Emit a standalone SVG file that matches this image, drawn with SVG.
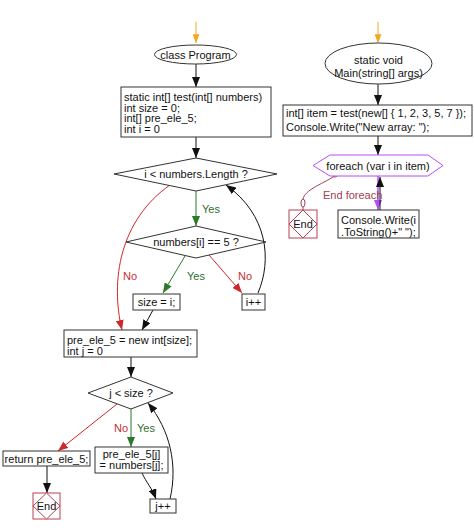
<svg xmlns="http://www.w3.org/2000/svg" width="474" height="532" viewBox="0 0 474 532">
<style>
text{font-family:"Liberation Sans",Arial,sans-serif;font-size:11px;fill:#111}
.c{text-anchor:middle}
.box{fill:#fff;stroke:#333;stroke-width:1}
.end{fill:#fff;stroke:#b84050;stroke-width:1}
.k{stroke:#111;fill:none;stroke-width:1;marker-end:url(#ak)}
.g{stroke:#2a7a2a;fill:none;stroke-width:1;marker-end:url(#ag)}
.r{stroke:#d02828;fill:none;stroke-width:1;marker-end:url(#ar)}
.o{stroke:#f5a623;fill:none;stroke-width:1;marker-end:url(#ao)}
.p{stroke:#b44cff;fill:none;stroke-width:1.5;marker-end:url(#ap)}
.yes{fill:#2e6e2e}
.no{fill:#c43030}
</style>
<defs>
<marker id="ak" viewBox="0 0 10 8" refX="10" refY="4" markerWidth="10" markerHeight="8" markerUnits="userSpaceOnUse" orient="auto"><path d="M0,0L10,4L0,8z" fill="#111"/></marker>
<marker id="ag" viewBox="0 0 10 8" refX="10" refY="4" markerWidth="10" markerHeight="8" markerUnits="userSpaceOnUse" orient="auto"><path d="M0,0L10,4L0,8z" fill="#2a7a2a"/></marker>
<marker id="ar" viewBox="0 0 10 8" refX="10" refY="4" markerWidth="10" markerHeight="8" markerUnits="userSpaceOnUse" orient="auto"><path d="M0,0L10,4L0,8z" fill="#d02828"/></marker>
<marker id="ao" viewBox="0 0 10 8" refX="10" refY="4" markerWidth="10" markerHeight="7" markerUnits="userSpaceOnUse" orient="auto"><path d="M0,0L10,4L0,8z" fill="#f5a623"/></marker>
<marker id="ap" viewBox="0 0 10 8" refX="10" refY="4" markerWidth="10" markerHeight="8" markerUnits="userSpaceOnUse" orient="auto"><path d="M0,0L10,4L0,8z" fill="#b44cff"/></marker>
</defs>
<rect width="474" height="532" fill="#fff"/>

<g id="connectors">
<path class="o" d="M196,22L196,43"/>
<path class="k" d="M196,64L196,87"/>
<path class="k" d="M196,137L196,158"/>
<path class="g" d="M196,191L196,226"/>
<path class="g" d="M185,256L163,293"/>
<path class="r" d="M209,255L242,293"/>
<path class="k" d="M258,293C272,260 268,215 226,185"/>
<path class="r" d="M170,185C120,220 110,280 122,330"/>
<path class="k" d="M153,310L142,330"/>
<path class="k" d="M131,357L131,377"/>
<path class="r" d="M117,404L58,451"/>
<path class="g" d="M131,409L131,447"/>
<path class="k" d="M47,466L47,493"/>
<path class="k" d="M142,473C146,482 152,488 156,499"/>
<path class="k" d="M170,499C178,465 170,430 148,403"/>
<path class="o" d="M378,22L378,43"/>
<path class="k" d="M378,84L378,105"/>
<path class="k" d="M378,136L378,155"/>
<path class="p" d="M378,176L378,210"/>
<path class="k" d="M380,210L380,177"/>
<path d="M335,176C320,185 305,190 303,199" fill="none" stroke="#a04050" stroke-width="1"/>
<circle cx="335" cy="174.5" r="2.5" fill="#fff" stroke="#a04050"/>
<ellipse cx="303" cy="203" rx="2" ry="4" fill="#fff" stroke="#a04050"/>
<path d="M303,207L303,210" stroke="#a04050" stroke-width="1"/>
<text class="yes" x="202" y="213">Yes</text>
<text class="yes" x="187" y="280">Yes</text>
<text class="no" x="238" y="280">No</text>
<text class="no" x="123" y="280">No</text>
<text class="no" x="114" y="432">No</text>
<text class="yes" x="137" y="432">Yes</text>
<text x="323" y="199" style="fill:#a04050">End foreach</text>
</g>

<g id="n_class">
<ellipse class="box" cx="195.5" cy="54.5" rx="41" ry="9.5"/>
<text class="c" x="195.5" y="58.5">class Program</text>
</g>
<g id="n_test">
<rect class="box" x="121" y="87" width="150" height="50"/>
<text x="124" y="101">static int[] test(int[] numbers)</text>
<text x="124" y="111.5">int size = 0;</text>
<text x="124" y="122">int[] pre_ele_5;</text>
<text x="124" y="132.5">int i = 0</text>
</g>
<g id="n_cond1">
<polygon class="box" points="196,158 277,174 196,191 114,174"/>
<text class="c" x="196" y="178">i &lt; numbers.Length ?</text>
</g>
<g id="n_cond2">
<polygon class="box" points="196,226 266,242 196,258 126,242"/>
<text class="c" x="196" y="246">numbers[i] == 5 ?</text>
</g>
<g id="n_size">
<rect class="box" x="133" y="294" width="47" height="16"/>
<text class="c" x="156.5" y="306">size = i;</text>
</g>
<g id="n_iinc">
<rect class="box" x="242" y="294" width="23" height="16"/>
<text class="c" x="253.5" y="306">i++</text>
</g>
<g id="n_alloc">
<rect class="box" x="64" y="330" width="133" height="27"/>
<text x="67" y="344">pre_ele_5 = new int[size];</text>
<text x="67" y="355">int j = 0</text>
</g>
<g id="n_cond3">
<polygon class="box" points="131,377 173,393 131,409 88,393"/>
<text class="c" x="131" y="397">j &lt; size ?</text>
</g>
<g id="n_return">
<rect class="box" x="3" y="451" width="87" height="15"/>
<text class="c" x="46.5" y="462.5">return pre_ele_5;</text>
</g>
<g id="n_assign">
<rect class="box" x="95" y="447" width="73" height="26"/>
<text class="c" x="131.5" y="457.5">pre_ele_5[j]</text>
<text class="c" x="131.5" y="469">= numbers[j];</text>
</g>
<g id="n_jinc">
<rect class="box" x="150" y="499" width="26" height="14"/>
<text class="c" x="163" y="510">j++</text>
</g>
<g id="n_end1">
<rect class="end" x="33" y="493" width="27" height="26"/>
<polygon class="end" points="46.5,493 60,506 46.5,519 33,506"/>
<text class="c" x="46.5" y="510">End</text>
</g>

<g id="n_main">
<ellipse class="box" cx="378.5" cy="63.5" rx="53.5" ry="20.5"/>
<text class="c" x="378.5" y="64">static void</text>
<text class="c" x="378.5" y="77">Main(string[] args)</text>
</g>
<g id="n_item">
<rect class="box" x="283" y="105" width="189" height="31"/>
<text x="286" y="117">int[] item = test(new[] { 1, 2, 3, 5, 7 });</text>
<text x="286" y="131">Console.Write("New array: ");</text>
</g>
<g id="n_foreach">
<polygon points="313,165.5 330,155 428,155 443,165.5 428,176 330,176" fill="#fff" stroke="#b44cff" stroke-width="1"/>
<text class="c" x="378" y="169.5">foreach (var i in item)</text>
</g>
<g id="n_end2">
<rect class="end" x="289" y="210" width="28" height="28"/>
<polygon class="end" points="303,210 317,224 303,238 289,224"/>
<text class="c" x="303" y="228">End</text>
</g>
<g id="n_write">
<rect class="box" x="338" y="210" width="81" height="28"/>
<text x="341" y="224">Console.Write(i</text>
<text x="341" y="236">.ToString()+" ");</text>
</g>
</svg>
